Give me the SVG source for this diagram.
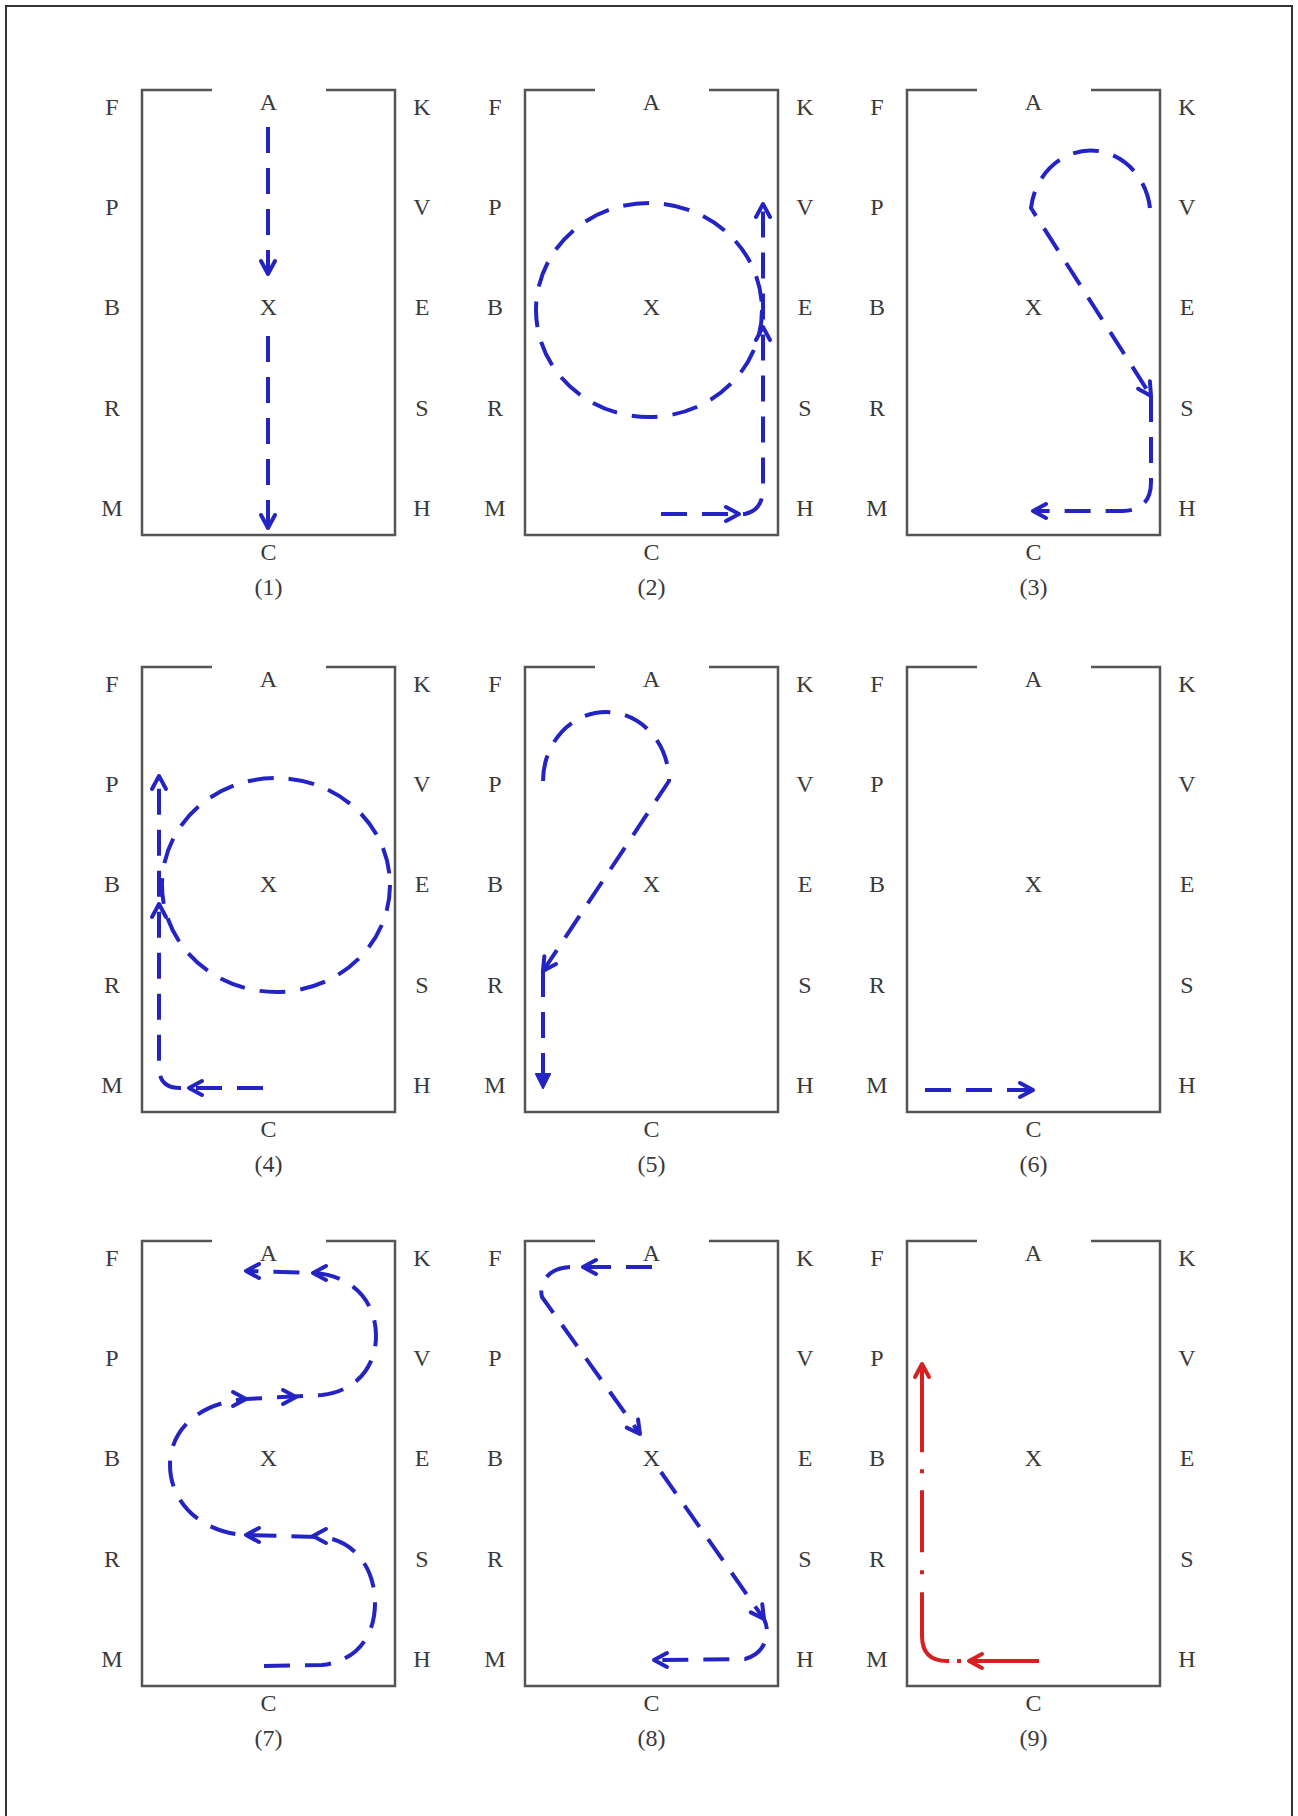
<svg xmlns="http://www.w3.org/2000/svg" xmlns:xlink="http://www.w3.org/1999/xlink" width="1298" height="1816" viewBox="0 0 1298 1816">
<style>
.frame{fill:none;stroke:#333;stroke-width:2}
.arena{fill:none;stroke:#555;stroke-width:2.5}
.lbl{font-family:'Liberation Serif','Times New Roman',serif;font-size:24px;fill:#3a3a3a;text-anchor:middle}
.route{fill:none;stroke:#2424c4;stroke-width:4;stroke-dasharray:26 15;stroke-linecap:butt;stroke-linejoin:round}
.ah{fill:none;stroke:#2424c4;stroke-width:4;stroke-linecap:round;stroke-linejoin:round}
.ahf{fill:#2424c4;stroke:#2424c4;stroke-width:2;stroke-linejoin:round}
.red{fill:none;stroke:#d42222;stroke-width:4;stroke-linejoin:round}
.redah{fill:none;stroke:#d42222;stroke-width:4;stroke-linecap:round;stroke-linejoin:round}
</style>
<defs>
<path id="chev" d="M -13,-7 L 0,0 L -13,7"/>
<g id="board">
<path class="arena" d="M 70,0 H 0 V 445 H 253 V 0 H 184"/>
<text class="lbl" x="-30" y="25">F</text>
<text class="lbl" x="-30" y="125">P</text>
<text class="lbl" x="-30" y="225">B</text>
<text class="lbl" x="-30" y="326">R</text>
<text class="lbl" x="-30" y="426">M</text>
<text class="lbl" x="280" y="25">K</text>
<text class="lbl" x="280" y="125">V</text>
<text class="lbl" x="280" y="225">E</text>
<text class="lbl" x="280" y="326">S</text>
<text class="lbl" x="280" y="426">H</text>
<text class="lbl" x="126.5" y="20">A</text>
<text class="lbl" x="126.5" y="225">X</text>
<text class="lbl" x="126.5" y="470">C</text>
</g>
</defs>
<rect x="0" y="0" width="1298" height="1816" fill="#fff"/>
<path class="frame" d="M 6,1816 V 6 H 1292 V 1816"/>

<g id="panel1" transform="translate(142,90)">
<use xlink:href="#board" href="#board"/>
<text class="lbl" x="126.5" y="505">(1)</text>
<g id="route1">
<path class="route" d="M 126,37 L 126,182"/>
<use class="ah" href="#chev" xlink:href="#chev" transform="translate(126,184) rotate(90)"/>
<path class="route" d="M 126,246 L 126,436"/>
<use class="ah" href="#chev" xlink:href="#chev" transform="translate(126,438) rotate(90)"/>
</g>
</g>

<g id="panel2" transform="translate(525,90)">
<use xlink:href="#board" href="#board"/>
<text class="lbl" x="126.5" y="505">(2)</text>
<g id="route2">
<ellipse class="route" cx="124" cy="220" rx="113" ry="107"/>
<path class="route" d="M 136,424 L 220,424 Q 238,420 238,398 L 238,116"/>
<use class="ah" href="#chev" xlink:href="#chev" transform="translate(214,424)"/>
<use class="ah" href="#chev" xlink:href="#chev" transform="translate(238,237) rotate(-90)"/>
<use class="ah" href="#chev" xlink:href="#chev" transform="translate(238,114) rotate(-90)"/>
</g>
</g>

<g id="panel3" transform="translate(907,90)">
<use xlink:href="#board" href="#board"/>
<text class="lbl" x="126.5" y="505">(3)</text>
<g id="route3">
<path class="route" d="M 243,118 A 60 66 0 0 0 124,118 L 244,306"/>
<use class="ah" href="#chev" xlink:href="#chev" transform="translate(244,306) rotate(57.4)"/>
<path class="route" d="M 244,306 L 244,392 Q 244,420 216,421 L 128,421"/>
<use class="ah" href="#chev" xlink:href="#chev" transform="translate(126,421) rotate(180)"/>
</g>
</g>

<g id="panel4" transform="translate(142,667)">
<use xlink:href="#board" href="#board"/>
<text class="lbl" x="126.5" y="505">(4)</text>
<g id="route4">
<ellipse class="route" cx="134" cy="218" rx="114" ry="107"/>
<path class="route" d="M 121,421 L 38,421 Q 17,421 17,400 L 17,111"/>
<use class="ah" href="#chev" xlink:href="#chev" transform="translate(47,421) rotate(180)"/>
<use class="ah" href="#chev" xlink:href="#chev" transform="translate(17,237) rotate(-90)"/>
<use class="ah" href="#chev" xlink:href="#chev" transform="translate(17,109) rotate(-90)"/>
</g>
</g>

<g id="panel5" transform="translate(525,667)">
<use xlink:href="#board" href="#board"/>
<text class="lbl" x="126.5" y="505">(5)</text>
<g id="route5">
<path class="route" d="M 18,114 A 63 69 0 0 1 144,114 L 18,304"/>
<use class="ah" href="#chev" xlink:href="#chev" transform="translate(18,304) rotate(123.6)"/>
<path class="route" d="M 18,304 L 18,408"/>
<path class="ahf" d="M 11,407 L 25,407 L 18,421 Z"/>
</g>
</g>

<g id="panel6" transform="translate(907,667)">
<use xlink:href="#board" href="#board"/>
<text class="lbl" x="126.5" y="505">(6)</text>
<g id="route6">
<path class="route" d="M 18,423 L 124,423"/>
<use class="ah" href="#chev" xlink:href="#chev" transform="translate(126,423)"/>
</g>
</g>

<g id="panel7" transform="translate(142,1241)">
<use xlink:href="#board" href="#board"/>
<text class="lbl" x="126.5" y="505">(7)</text>
<g id="route7">
<path class="route" d="M 122,425 L 180,424 C 215,420 233,395 233,362 C 233,330 215,300 180,296 L 104,294 C 60,292 28,262 28,224 C 28,190 55,162 104,158 L 180,154 C 215,150 234,125 234,95 C 234,60 210,34 171,32 L 104,30"/>
<use class="ah" href="#chev" xlink:href="#chev" transform="translate(171,32) rotate(180)"/>
<use class="ah" href="#chev" xlink:href="#chev" transform="translate(104,30) rotate(180)"/>
<use class="ah" href="#chev" xlink:href="#chev" transform="translate(104,158)"/>
<use class="ah" href="#chev" xlink:href="#chev" transform="translate(154,156)"/>
<use class="ah" href="#chev" xlink:href="#chev" transform="translate(171,295) rotate(180)"/>
<use class="ah" href="#chev" xlink:href="#chev" transform="translate(104,294) rotate(180)"/>
</g>
</g>

<g id="panel8" transform="translate(525,1241)">
<use xlink:href="#board" href="#board"/>
<text class="lbl" x="126.5" y="505">(8)</text>
<g id="route8">
<path class="route" d="M 127,26 L 45,26 C 25,27 13,40 17,56 L 115,193"/>
<use class="ah" href="#chev" xlink:href="#chev" transform="translate(58,26) rotate(180)"/>
<use class="ah" href="#chev" xlink:href="#chev" transform="translate(115,193) rotate(54)"/>
<path class="route" d="M 136,231 L 239,378 C 246,392 241,412 220,418 L 131,419"/>
<use class="ah" href="#chev" xlink:href="#chev" transform="translate(239,378) rotate(55)"/>
<use class="ah" href="#chev" xlink:href="#chev" transform="translate(129,419) rotate(180)"/>
</g>
</g>

<g id="panel9" transform="translate(907,1241)">
<use xlink:href="#board" href="#board"/>
<text class="lbl" x="126.5" y="505">(9)</text>
<g id="route9">
<path class="red" d="M 132,420 L 64,420"/>
<use class="redah" href="#chev" xlink:href="#chev" transform="translate(62,420) rotate(180)"/>
<path class="red" stroke-dasharray="4 8 86 18 4 18 62 17 4 17 110" d="M 54,420 L 40,420 Q 15,420 15,395 L 15,125"/>
<use class="redah" href="#chev" xlink:href="#chev" transform="translate(15,123) rotate(-90)"/>
</g>
</g>
</svg>
